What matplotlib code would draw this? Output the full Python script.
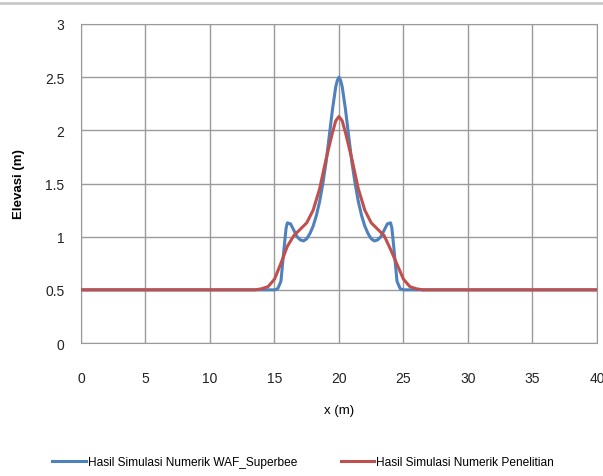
import numpy as np
import matplotlib
matplotlib.use("Agg")
import matplotlib.pyplot as plt
from matplotlib.lines import Line2D

# data
x_waf = [0, 10, 14, 15, 15.25, 15.5, 15.75, 15.9, 16.0, 16.25, 16.5, 16.75, 17.0, 17.25, 17.5, 17.75,
         18.0, 18.25, 18.5, 18.75, 19.0, 19.25, 19.5, 19.75, 19.875, 20.0, 20.125,
         20.25, 20.5, 20.75, 21.0, 21.25, 21.5, 21.75, 22.0, 22.25, 22.5, 22.75,
         23.0, 23.25, 23.5, 23.75, 24.0, 24.1, 24.25, 24.5, 24.75, 25.0, 26, 30, 40]
y_waf = [0.5, 0.5, 0.5, 0.5, 0.51, 0.58, 0.9, 1.08, 1.13, 1.12, 1.06, 1.0, 0.97, 0.96, 0.98, 1.03,
         1.1, 1.2, 1.33, 1.5, 1.7, 1.95, 2.2, 2.41, 2.47, 2.5, 2.47,
         2.41, 2.2, 1.95, 1.7, 1.5, 1.33, 1.2, 1.1, 1.03, 0.98, 0.96,
         0.97, 1.0, 1.06, 1.12, 1.13, 1.08, 0.9, 0.58, 0.51, 0.5, 0.5, 0.5, 0.5]

x_pen = [0, 10, 13.5, 14.0, 14.5, 15.0, 15.5, 16.0, 16.5, 17.0, 17.5, 18.0, 18.5, 19.0, 19.5, 19.75, 20.0,
         20.25, 20.5, 21.0, 21.5, 22.0, 22.5, 23.0, 23.5, 24.0, 24.5, 25.0, 25.5, 26.0, 26.5, 30, 40]
y_pen = [0.5, 0.5, 0.5, 0.51, 0.53, 0.6, 0.75, 0.91, 1.01, 1.07, 1.13, 1.25, 1.45, 1.73, 1.98, 2.09, 2.13,
         2.09, 1.98, 1.73, 1.45, 1.25, 1.13, 1.07, 1.01, 0.88, 0.74, 0.6, 0.53, 0.51, 0.5, 0.5, 0.5]

x_ticks = [0, 5, 10, 15, 20, 25, 30, 35, 40]
y_ticks = [0, 0.5, 1, 1.5, 2, 2.5, 3]

plt.rcParams['font.family'] = ['Liberation Sans Narrow', 'Liberation Sans', 'DejaVu Sans']

fig = plt.figure(figsize=(6.03, 4.77), dpi=100)
ax = fig.add_axes([0.1343, 0.2788, 0.8557, 0.6688])

ax.plot(x_waf, y_waf, color='#4F81BD', lw=2.2, label='Hasil Simulasi Numerik WAF_Superbee', zorder=3,
        solid_joinstyle='round')
ax.plot(x_pen, y_pen, color='#C0504D', lw=2.2, label='Hasil Simulasi Numerik Penelitian', zorder=4,
        solid_joinstyle='round')

ax.set_xlim(0, 40)
ax.set_ylim(0, 3)
ax.set_xticks(x_ticks)
ax.set_yticks(y_ticks)
ax.set_yticklabels(['0', '0.5', '1', '1.5', '2', '2.5', '3'])
ax.grid(True, color='#9a9a9a', lw=1.0)
ax.set_axisbelow(True)
for s in ax.spines.values():
    s.set_color('#9a9a9a')
ax.tick_params(axis='x', length=0, pad=20, labelsize=10, colors='#222222')
ax.tick_params(axis='y', length=0, pad=12, labelsize=10, colors='#222222')

ax.set_xlabel('x (m)', fontsize=9.5, labelpad=14)
ax.set_ylabel('Elevasi (m)', fontsize=9.5, fontweight='bold', labelpad=14)

fig.legend(handles=ax.get_lines(), loc='center', bbox_to_anchor=(0.503, 0.03), ncol=2,
           frameon=False, fontsize=8.6, handlelength=2.8, handletextpad=0.2, columnspacing=3.6)

# grey border strip at the very top
fig.add_artist(Line2D([0, 1], [0.992, 0.992], color='#c8c8c8', lw=2, transform=fig.transFigure))

fig.savefig('out.png', dpi=100)
